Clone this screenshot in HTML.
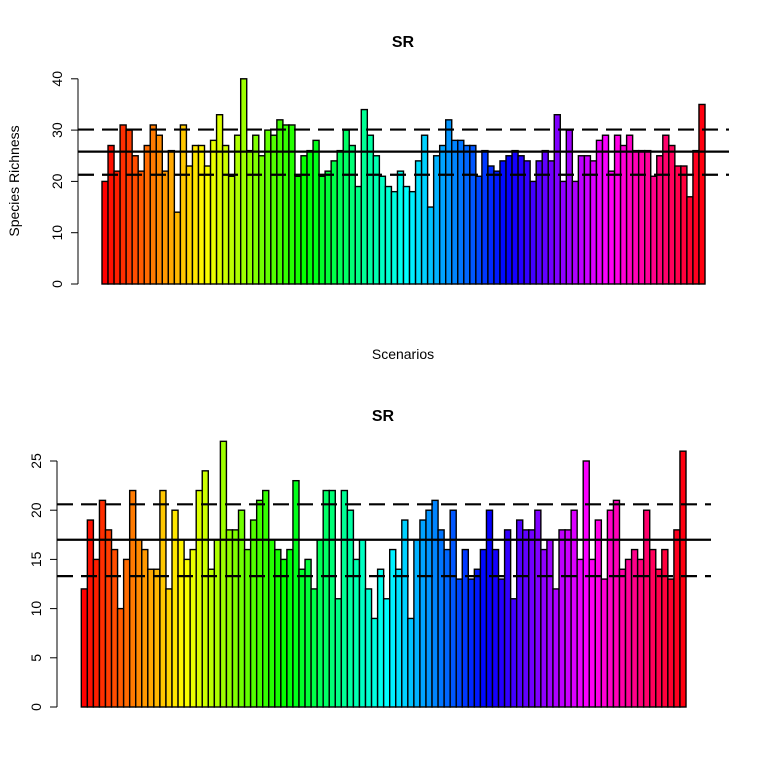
<!DOCTYPE html>
<html><head><meta charset="utf-8"><style>
html,body{margin:0;padding:0;background:#fff;}
svg{display:block;font-family:"Liberation Sans",Arial,sans-serif;}
</style></head><body>
<svg id="chart" width="768" height="768" viewBox="0 0 768 768" xmlns="http://www.w3.org/2000/svg">
<text x="403" y="47" font-size="16" font-weight="bold" text-anchor="middle">SR</text>
<text transform="translate(19,181) rotate(-90)" font-size="14" text-anchor="middle">Species Richness</text>
<text x="403" y="359" font-size="14" text-anchor="middle">Scenarios</text>
<text x="383" y="421" font-size="16" font-weight="bold" text-anchor="middle">SR</text>
<g id="top"></g>
<g id="bottom"></g>
</svg>
<script>
const topValues = [20,27,22,31,30,25,22,27,31,29,22,26,14,31,23,27,27,23,28,33,27,21,29,40,26,29,25,30,29,32,31,31,21,25,26,28,21,22,24,26,30,27,19,34,29,25,21,19,18,22,19,18,24,29,15,25,27,32,28,28,27,27,21,26,23,22,24,25,26,25,24,20,24,26,24,33,20,30,20,25,25,24,28,29,22,29,27,29,26,26,26,21,25,29,27,23,23,17,26,35];
const topTicks = [0,10,20,30,40];
const topRefLines = [25.8];
const topDashLines = [30.1,21.3];
const bottomValues = [12,19,15,21,18,16,10,15,22,17,16,14,14,22,12,20,17,15,16,22,24,14,17,27,18,18,20,16,19,21,22,17,16,15,16,23,14,15,12,17,22,22,11,22,20,15,17,12,9,14,11,16,14,19,9,17,19,20,21,18,16,20,13,16,13,14,16,20,16,13,18,11,19,18,18,20,16,17,12,18,18,20,15,25,15,19,13,20,21,14,15,16,15,20,16,14,16,13,18,26];
const bottomTicks = [0,5,10,15,20,25];
const bottomRefLines = [17.0];
const bottomDashLines = [20.6,13.3];

const NS = "http://www.w3.org/2000/svg";
function mk(tag, attrs, parent){
  const e = document.createElementNS(NS, tag);
  for (const k in attrs) e.setAttribute(k, attrs[k]);
  parent.appendChild(e);
  return e;
}
function draw(g, vals, ticks, ref, dash, cfg){
  const n = vals.length;
  const bw = (cfg.x1 - cfg.x0) / n;
  const yS = v => cfg.y0 - v * cfg.ppu;
  const xS = i => cfg.x0 + i * bw;
  const ax = mk('line', {x1:cfg.ax, x2:cfg.ax, y1:yS(ticks[0]), y2:yS(ticks[ticks.length-1]), stroke:'#000', 'stroke-width':1}, g);
  
  
  ticks.forEach(t => {
    const tl = mk('line', {x1:cfg.ax-7, x2:cfg.ax, y1:yS(t), y2:yS(t), stroke:'#000', 'stroke-width':1}, g);
    
    
    const tx = mk('text', {transform:'translate('+(cfg.ax-16)+','+yS(t)+') rotate(-90)', 'font-size':14, 'text-anchor':'middle'}, g);
    tx.textContent = String(t);
    
    
  });
  vals.forEach((v, i) => {
    const r = mk('rect', {x:xS(i), y:yS(v), width:bw, height:v*cfg.ppu, fill:'hsl('+(i*360/n)+',100%,50%)', stroke:'#000', 'stroke-width':1.4}, g);
    
    
  });
  ref.forEach(v => {
    const l = mk('line', {x1:cfg.ax, x2:cfg.lx, y1:yS(v), y2:yS(v), stroke:'#000', 'stroke-width':2.2}, g);
    
    
  });
  dash.forEach(v => {
    const l = mk('line', {x1:cfg.ax, x2:cfg.lx, y1:yS(v), y2:yS(v), stroke:'#000', 'stroke-width':2.2, 'stroke-dasharray':'16,8'}, g);
    
    
  });
}
draw(document.getElementById('top'), topValues, topTicks, topRefLines, topDashLines,
  {x0:102, x1:705, y0:284, ppu:5.13, ax:78, lx:729});
draw(document.getElementById('bottom'), bottomValues, bottomTicks, bottomRefLines, bottomDashLines,
  {x0:81.3, x1:686, y0:707, ppu:9.84, ax:57, lx:711});
</script>
</body></html>
